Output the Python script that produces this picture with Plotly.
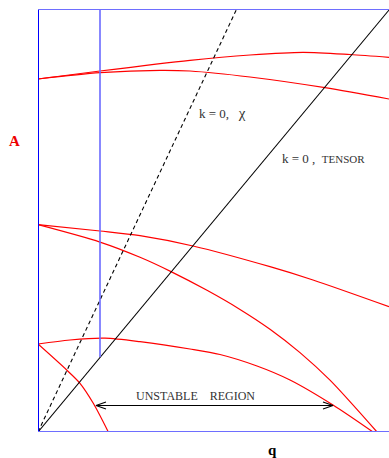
import plotly.graph_objects as go

# ---- data (q, A); plot units ----
q_range = [0, 351]
a_range = [0, 423]

curve_a_q = [0, 62, 152, 212, 265, 312, 351]
curve_a_A = [353, 361, 371.7, 377, 379.7, 377.5, 374.7]

curve_b_q = [0, 62, 122, 152, 212, 287, 351]
curve_b_A = [353, 359.3, 361.7, 361, 355, 344.3, 333]

curve_c_q = [0, 62, 102, 155, 232, 275, 351]
curve_c_A = [207.3, 201, 196.3, 186, 165.3, 152, 125.3]

curve_d_q = [0, 62, 102, 133, 169, 202, 232, 262, 292, 339]
curve_d_A = [207.3, 189.9, 174.7, 160.4, 141.7, 122.6, 102.8, 79.4, 51.8, 0]

curve_e_q = [0, 32, 67, 102, 152, 182, 219, 252, 295, 335]
curve_e_A = [88, 92, 93.8, 90.3, 83, 77.5, 66, 52, 27, 0]

curve_f_q = [0, 28.7, 42, 55.3, 70.3]
curve_f_A = [88, 62, 48.7, 28.7, 0]

chi_line_q = [0, 198.7]
chi_line_A = [0, 423]

tensor_line_q = [0, 351]
tensor_line_A = [0, 422]

boundary_q = [62, 62]
boundary_A = [75, 423]

unstable_q = [58, 295]
unstable_A = 26.5

RED = "#ff0000"

fig = go.Figure()

for qs, As in [(curve_a_q, curve_a_A), (curve_b_q, curve_b_A), (curve_c_q, curve_c_A),
               (curve_d_q, curve_d_A), (curve_e_q, curve_e_A), (curve_f_q, curve_f_A)]:
    fig.add_trace(go.Scatter(x=qs, y=As, mode="lines",
                             line=dict(color=RED, width=1.2, shape="spline", smoothing=0.8),
                             hoverinfo="skip", showlegend=False))

fig.add_trace(go.Scatter(x=chi_line_q, y=chi_line_A, mode="lines",
                         line=dict(color="black", width=1.1, dash="4px,3px"),
                         hoverinfo="skip", showlegend=False))
fig.add_trace(go.Scatter(x=tensor_line_q, y=tensor_line_A, mode="lines",
                         line=dict(color="black", width=1.1),
                         hoverinfo="skip", showlegend=False))
fig.add_trace(go.Scatter(x=boundary_q, y=boundary_A, mode="lines",
                         line=dict(color="#6a6aff", width=1.6),
                         hoverinfo="skip", showlegend=False))

# double arrow (shaft + open chevron heads)
fig.add_trace(go.Scatter(x=unstable_q, y=[unstable_A, unstable_A], mode="lines",
                         line=dict(color="black", width=1.2),
                         hoverinfo="skip", showlegend=False))
head_len, head_half = 10, 3.5
for tip, d in [(unstable_q[0], 1), (unstable_q[1], -1)]:
    fig.add_trace(go.Scatter(x=[tip + d * head_len, tip, tip + d * head_len],
                             y=[unstable_A + head_half, unstable_A, unstable_A - head_half],
                             mode="lines", line=dict(color="black", width=1.1),
                             hoverinfo="skip", showlegend=False))

# frame
fig.add_shape(type="line", x0=0, x1=0, y0=0, y1=423, line=dict(color="#0000ff", width=2))
fig.add_shape(type="line", x0=0, x1=351, y0=423, y1=423, line=dict(color="#6e6eff", width=2))
fig.add_shape(type="line", x0=0, x1=351, y0=0, y1=0, line=dict(color="#6e6eff", width=2))

serif = "Liberation Serif, Times New Roman, serif"

fig.add_annotation(x=157, y=36, xref="x", yref="y",
                   text="UNSTABLE&nbsp;&nbsp;&nbsp;&nbsp;REGION",
                   showarrow=False, font=dict(family=serif, size=12, color="#333333"))
fig.add_annotation(x=158.5, y=319.3, xref="x", yref="y", xanchor="left",
                   text="k = 0,&nbsp;&nbsp;&nbsp;<span style='font-size:15px'>χ</span>", showarrow=False,
                   font=dict(family=serif, size=13, color="#333333"))
fig.add_annotation(x=241.5, y=273.3, xref="x", yref="y", xanchor="left",
                   text="k = 0 ,&nbsp; <span style='font-size:11px'>TENSOR</span>", showarrow=False,
                   font=dict(family=serif, size=13, color="#333333"))

fig.add_annotation(x=-0.068, y=0.688, xref="paper", yref="paper", text="<b>A</b>",
                   xanchor="center", yanchor="middle",
                   showarrow=False, font=dict(family=serif, size=15, color="#ee0000"))
fig.add_annotation(x=0.6695, y=-0.043, xref="paper", yref="paper", text="<b>q</b>",
                   xanchor="center", yanchor="middle",
                   showarrow=False, font=dict(family=serif, size=15, color="black"))

fig.update_layout(width=389, height=458, margin=dict(l=38, r=0, t=9, b=26),
                  paper_bgcolor="white", plot_bgcolor="white", showlegend=False)
fig.update_xaxes(range=q_range, visible=False, fixedrange=True)
fig.update_yaxes(range=a_range, visible=False, fixedrange=True)

fig.write_html("out.html", config={"displayModeBar": False},
               post_script="document.body.style.margin='0';document.body.style.padding='0';")
